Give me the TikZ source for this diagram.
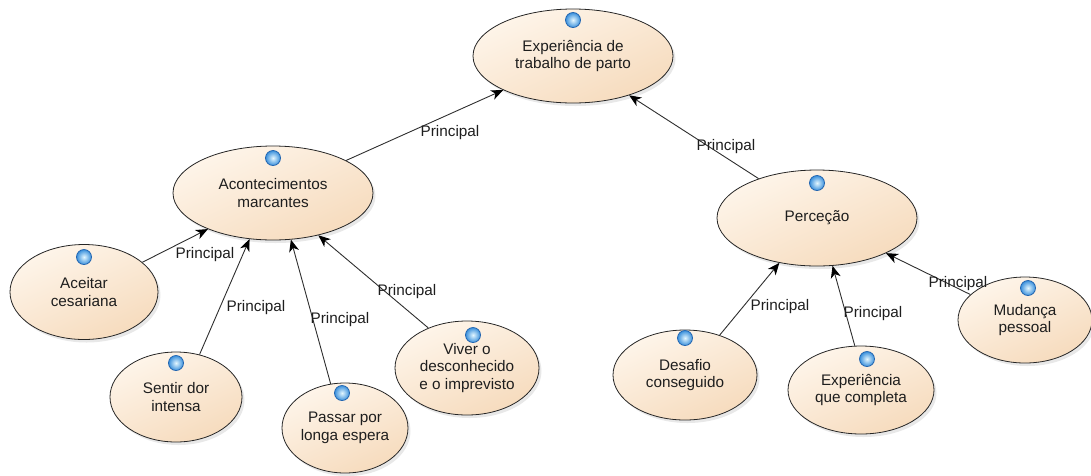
\documentclass[tikz,border=0pt]{standalone}
\usepackage{fontspec}
\setmainfont{Liberation Sans}
\usetikzlibrary{shapes.geometric,arrows.meta,shadows}
\definecolor{nodeTop}{HTML}{FEF5EA}
\definecolor{nodeBot}{HTML}{F6DBBD}
\definecolor{edgeGray}{HTML}{2E2E2E}
\definecolor{textGray}{HTML}{1E1E1E}
\definecolor{ballCore}{HTML}{E4F7FF}
\definecolor{ballBlue}{HTML}{3A90DC}
\definecolor{ballRim}{HTML}{2466B0}
\tikzset{
  concept/.style={ellipse, draw=black!85, line width=0.8pt, inner sep=0pt,
    top color=nodeTop, bottom color=nodeBot, shading angle=25,
    drop shadow={opacity=0.18, shadow xshift=2.5pt, shadow yshift=-3pt},
    align=center, text=textGray, font=\fontsize{15.3}{17.5}\selectfont},
  ball/.style={circle, minimum size=15pt, inner sep=0pt, draw=ballRim,
    line width=0.8pt, shading=radial, inner color=ballCore, outer color=ballBlue},
  link/.style={draw=edgeGray, line width=0.9pt,
    -{Stealth[length=12pt,width=10pt,inset=3.5pt,color=black]}},
  linklabel/.style={text=textGray, inner sep=0pt, font=\fontsize{15.3}{17.5}\selectfont}
}
\begin{document}
\begin{tikzpicture}[x=1pt,y=-1pt]
\useasboundingbox (0,0) rectangle (1091,475);

% concepts
\node[concept, minimum width=200pt, minimum height=94pt] (T) at (573,56) {Experiência de\\trabalho de parto};
\node[concept, minimum width=200pt, minimum height=94pt] (A) at (273,193) {Acontecimentos\\marcantes};
\node[concept, minimum width=200pt, minimum height=96pt] (R) at (817,218) {Perceção};
\node[concept, minimum width=148pt, minimum height=95pt] (C) at (84,292) {Aceitar\\cesariana};
\node[concept, minimum width=132pt, minimum height=90pt] (S) at (176,397) {Sentir dor\\intensa};
\node[concept, minimum width=126pt, minimum height=90pt] (P) at (345,428) {Passar por\\longa espera};
\node[concept, minimum width=144pt, minimum height=94pt] (V) at (467,368) {Viver o\\desconhecido\\e o imprevisto};
\node[concept, minimum width=144pt, minimum height=90pt] (D) at (685,375) {Desafio\\conseguido};
\node[concept, minimum width=146pt, minimum height=88pt] (E) at (861,390) {Experiência\\que completa};
\node[concept, minimum width=134pt, minimum height=86pt] (M) at (1025,320) {Mudança\\pessoal};

% status balls
\node[ball] (bT) at ([yshift=36pt]T.center) {};
\node[ball] (bA) at ([yshift=35pt]A.center) {};
\node[ball] (bR) at ([yshift=35pt]R.center) {};
\node[ball] (bC) at ([yshift=35pt]C.center) {};
\node[ball] (bS) at ([yshift=34pt]S.center) {};
\node[ball] (bP) at ([yshift=35pt,xshift=-3pt]P.center) {};
\node[ball] (bV) at ([yshift=33pt,xshift=6pt]V.center) {};
\node[ball] (bD) at ([yshift=37pt]D.center) {};
\node[ball] (bE) at ([yshift=31pt,xshift=6pt]E.center) {};
\node[ball] (bM) at ([yshift=32pt,xshift=3pt]M.center) {};

% links
\draw[link] (A.24) -- (T.-154);
\draw[link] (R.146) -- (T.-35);
\draw[link] (C.27) -- (A.-151);
\draw[link] (S.61) -- (A.-117);
\draw[link] (P.108) -- (A.-69);
\draw[link] (V.134) -- (A.-43);
\draw[link] (D.49) -- (R.-130);
\draw[link] (E.98) -- (R.-72);
\draw[link] (M.155) -- (R.-27);

% link labels
\node[linklabel] (l1) at (450,133) {Principal};
\node[linklabel] (l2) at (726,147) {Principal};
\node[linklabel] (l3) at (205,255) {Principal};
\node[linklabel] (l4) at (256,308) {Principal};
\node[linklabel] (l5) at (340,320) {Principal};
\node[linklabel] (l6) at (407,292) {Principal};
\node[linklabel] (l7) at (780,307) {Principal};
\node[linklabel] (l8) at (873,314) {Principal};
\node[linklabel] (l9) at (958,284) {Principal};
\end{tikzpicture}
\end{document}
